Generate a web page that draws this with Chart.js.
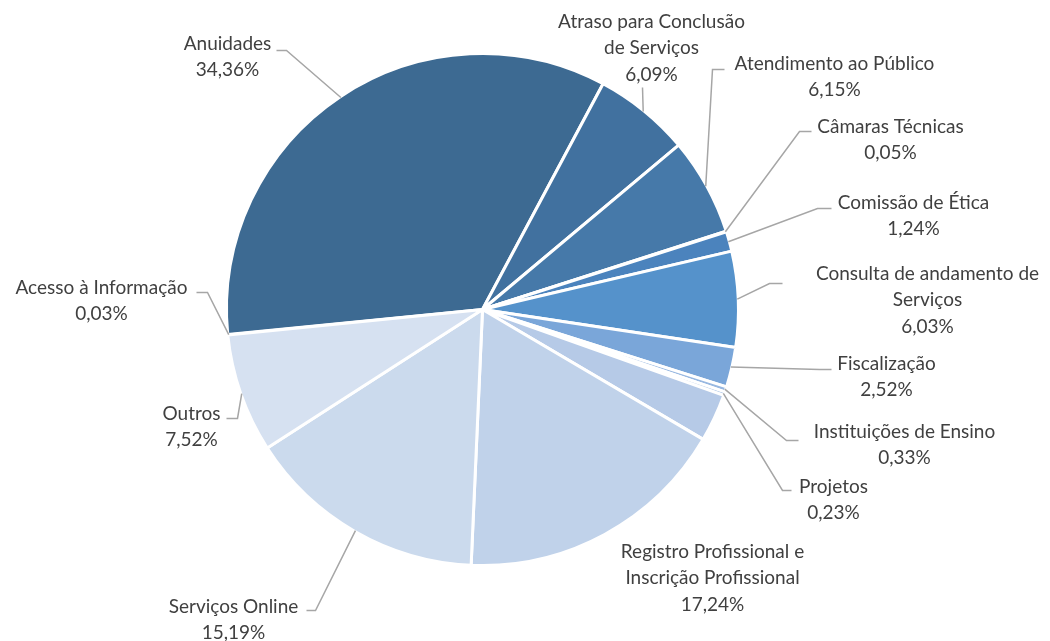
<!DOCTYPE html>
<html lang="pt">
  <head>
    <meta charset="UTF-8" />
    <title>Distribuição por assunto</title>
    <style>
      html,
      body {
        margin: 0;
        padding: 0;
        background: #fff;
        overflow: hidden;
      }
      .wrap {
        width: 1050px;
        height: 641px;
        position: relative;
      }
    </style>
  </head>
  <body>
    <div class="wrap"><canvas id="chart"></canvas></div>
    <script src="https://cdn.jsdelivr.net/npm/chart.js@4.4.1/dist/chart.umd.min.js"></script>
    <script>
      const categories = [
        "Acesso à Informação",
        "Anuidades",
        "Atraso para Conclusão de Serviços",
        "Atendimento ao Público",
        "Câmaras Técnicas",
        "Comissão de Ética",
        "Consulta de andamento de Serviços",
        "Fiscalização",
        "Instituições de Ensino",
        "Projetos",
        "",
        "Registro Profissional e Inscrição Profissional",
        "Serviços Online",
        "Outros",
      ];
      const shares = [
        0.03, 34.36, 6.09, 6.15, 0.05, 1.24, 6.03, 2.52, 0.33, 0.23, 3.02,
        17.24, 15.19, 7.52,
      ];
      const colors = [
        "#3d6890", "#3d6a92", "#41719f", "#4679a9", "#4a7fb4", "#4b83bd",
        "#5592cb", "#7aa6d9", "#98b8e1", "#a9c3e5", "#b6cae7", "#c0d2ea",
        "#cbdaed", "#d6e1f1",
      ];

      // label layout, relative to the pie centre: text centre (tx, ty of first line),
      // leader elbow (ex, ey) and leader end (hx, hy)
      const labelLayout = [
        { lines: ["Acesso à Informação"], tx: -381, ty: -22, ex: -275, ey: -17, hx: -286, hy: -17 },
        { lines: ["Anuidades"], tx: -255, ty: -266, ex: -196, ey: -259, hx: -206, hy: -259 },
        { lines: ["Atraso para Conclusão", "de Serviços"], tx: 169, ty: -288, ex: 160, ey: -222, hx: 160, hy: -222 },
        { lines: ["Atendimento ao Público"], tx: 352, ty: -246, ex: 230, ey: -240, hx: 242, hy: -240 },
        { lines: ["Câmaras Técnicas"], tx: 408, ty: -183, ex: 317, ey: -178, hx: 329, hy: -178 },
        { lines: ["Comissão de Ética"], tx: 431, ty: -107, ex: 335, ey: -101, hx: 349, hy: -101 },
        { lines: ["Consulta de andamento de", "Serviços"], tx: 445, ty: -36, ex: 287, ey: -26, hx: 300, hy: -26 },
        { lines: ["Fiscalização"], tx: 404, ty: 54, ex: 337, ey: 60, hx: 349, hy: 60 },
        { lines: ["Instituições de Ensino"], tx: 422, ty: 122, ex: 304, ey: 131, hx: 316, hy: 131 },
        { lines: ["Projetos"], tx: 351, ty: 177, ex: 300, ey: 181, hx: 309, hy: 181 },
        null,
        { lines: ["Registro Profissional e", "Inscrição Profissional"], tx: 230, ty: 242 },
        { lines: ["Serviços Online"], tx: -249, ty: 297, ex: -167, ey: 301, hx: -176, hy: 301 },
        { lines: ["Outros"], tx: -291, ty: 104, ex: -245, ey: 109, hx: -256, hy: 109 },
      ];

      function formatShare(v) {
        return v.toFixed(2).replace(".", ",") + "%";
      }

      const outsideLabels = {
        id: "outsideLabels",
        afterDatasetsDraw(chart) {
          const ctx = chart.ctx;
          const arcs = chart.getDatasetMeta(0).data;
          ctx.save();
          ctx.font = '19px Lato, "Open Sans", sans-serif';
          ctx.fillStyle = "#404040";
          ctx.textAlign = "center";
          ctx.textBaseline = "middle";
          arcs.forEach((arc, i) => {
            const layout = labelLayout[i];
            if (!layout) return;
            const cx = arc.x;
            const cy = arc.y;
            if (layout.ex !== undefined) {
              const mid = (arc.startAngle + arc.endAngle) / 2;
              const r = arc.outerRadius - 1;
              ctx.beginPath();
              ctx.moveTo(cx + Math.cos(mid) * r, cy + Math.sin(mid) * r);
              ctx.lineTo(cx + layout.ex, cy + layout.ey);
              ctx.lineTo(cx + layout.hx, cy + layout.hy);
              ctx.strokeStyle = "#a6a6a6";
              ctx.lineWidth = 1.5;
              ctx.stroke();
            }
            const lines = layout.lines.concat([formatShare(shares[i])]);
            lines.forEach((line, k) => {
              ctx.fillText(line, cx + layout.tx, cy + layout.ty + k * 26.5);
            });
          });
          ctx.restore();
        },
      };

      new Chart(document.getElementById("chart"), {
        type: "pie",
        data: {
          labels: categories,
          datasets: [
            {
              data: shares,
              backgroundColor: colors,
              borderColor: "#ffffff",
              borderWidth: 3,
            },
          ],
        },
        options: {
          responsive: true,
          maintainAspectRatio: false,
          animation: false,
          rotation: 264.3,
          layout: {
            padding: { top: 52, bottom: 74, left: 225, right: 310 },
          },
          plugins: {
            legend: { display: false },
            tooltip: { enabled: false },
          },
        },
        plugins: [outsideLabels],
      });
    </script>
  </body>
</html>
